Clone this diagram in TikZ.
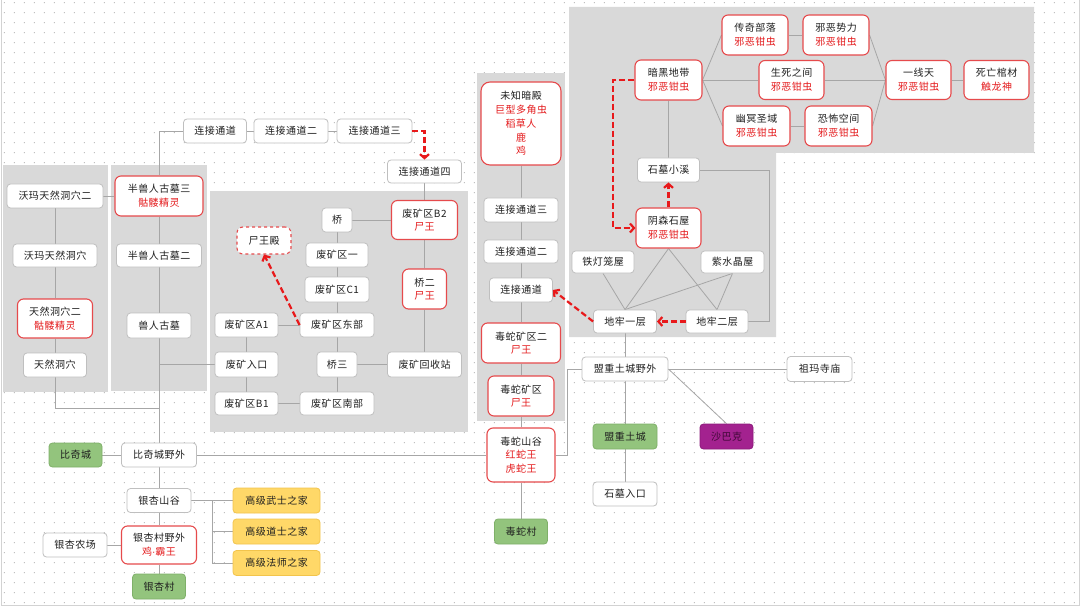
\documentclass[tikz,border=0pt]{standalone}
\usepackage{fontspec}
\setmainfont[LetterSpace=5]{Noto Sans CJK SC}
\newfontfamily\latinf{Liberation Sans}
\usetikzlibrary{arrows.meta,patterns}
\pgfdeclarelayer{bg}
\pgfdeclarelayer{edges}
\pgfsetlayers{bg,edges,main}
\definecolor{txt}{HTML}{1F1F1F}
\definecolor{rt}{HTML}{E41A1C}
\definecolor{rborder}{HTML}{E64A4C}
\definecolor{gborder}{HTML}{BFBFBF}
\definecolor{panel}{HTML}{D9D9D9}
\definecolor{lin}{HTML}{A6A6A6}
\definecolor{gfill}{HTML}{93C47D}
\definecolor{gdraw}{HTML}{7FB069}
\definecolor{ofill}{HTML}{FFD868}
\definecolor{odraw}{HTML}{F2C44C}
\definecolor{pfill}{HTML}{A3228F}
\definecolor{pdraw}{HTML}{8C1A7B}
\definecolor{ptxt}{HTML}{3F0836}
\definecolor{arr}{HTML}{E8191B}
\newcommand\redl[1]{\textcolor{rt}{#1}}
\pgfdeclarepatternformonly{griddots}{\pgfqpoint{0pt}{0pt}}{\pgfqpoint{9.5pt}{9.5pt}}{\pgfqpoint{9.5pt}{9.5pt}}{\pgfpathrectangle{\pgfqpoint{4pt}{4pt}}{\pgfqpoint{1.2pt}{1.2pt}}\pgfusepath{fill}}
\tikzset{
  box/.style={draw=gborder, fill=white, rounded corners=3.5pt, line width=0.8pt,
    text=txt, align=center, inner sep=1pt, font=\fontsize{10}{13.7}\selectfont},
  rbox/.style={box, draw=rborder, line width=1.1pt, rounded corners=6pt},
  gbox/.style={box, fill=gfill, draw=gdraw},
  obox/.style={box, fill=ofill, draw=odraw},
  pbox/.style={box, fill=pfill, draw=pdraw, text=ptxt},
  conn/.style={draw=lin, line width=0.8pt},
  rarrow/.style={draw=arr, line width=2.2pt, dash pattern=on 6pt off 3pt,
    -{Straight Barb[length=4pt,width=9pt]}},
}
\begin{document}
\begin{tikzpicture}[x=1pt,y=-1pt]
\useasboundingbox (0,0) rectangle (1080,607);
\begin{pgfonlayer}{bg}
\fill[white] (0,0) rectangle (1080,607);
\fill[pattern=griddots, pattern color=gray!50] (0,0) rectangle (1080,607);
\draw[gray!35, line width=1pt] (1,0) -- (1,605.5) -- (1079,605.5) -- (1079,0);
\fill[panel] (3,165) rectangle (108,392);
\fill[panel] (111,165) rectangle (207,391);
\fill[panel] (210,191) rectangle (468,432);
\fill[panel] (477,73) rectangle (565,421);
\fill[panel] (569,7) -- (1034,7) -- (1034,153) -- (776,153) -- (776,337) -- (569,337) -- cycle;
\end{pgfonlayer}

% left columns
\node[box, minimum width=96, minimum height=24] (wm2) at (55,196) {沃玛天然洞穴二};
\node[box, minimum width=84, minimum height=23] (wm1) at (55,255.5) {沃玛天然洞穴};
\node[rbox, minimum width=75, minimum height=39] (tr2) at (55,318.5) {天然洞穴二\\\redl{骷髅精灵}};
\node[box, minimum width=63, minimum height=24] (tr1) at (55,365) {天然洞穴};
\node[rbox, minimum width=88, minimum height=40] (bsr3) at (159,196) {半兽人古墓三\\\redl{骷髅精灵}};
\node[box, minimum width=85, minimum height=23] (bsr2) at (159,255.5) {半兽人古墓二};
\node[box, minimum width=64, minimum height=25] (srgm) at (159,325.5) {兽人古墓};
\coordinate (j1) at (159,408);

% top passages
\node[box, minimum width=63, minimum height=24] (lj1) at (215,131) {连接通道};
\node[box, minimum width=74, minimum height=24] (lj2) at (291,131) {连接通道二};
\node[box, minimum width=75, minimum height=24] (lj3) at (374.5,131) {连接通道三};
\node[box, minimum width=74, minimum height=23] (lj4) at (424.5,171.5) {连接通道四};

% mine area
\node[box, minimum width=30, minimum height=24] (qiao) at (337,220) {桥};
\node[rbox, minimum width=66, minimum height=39] (fkB2) at (424.5,220) {废矿区B2\\\redl{尸王}};
\node[rbox, dashed, minimum width=54, minimum height=27] (swd) at (264,240.5) {尸王殿};
\node[box, minimum width=62, minimum height=24] (fk1) at (337,255) {废矿区一};
\node[rbox, minimum width=44, minimum height=40] (q2) at (424.5,289) {桥二\\\redl{尸王}};
\node[box, minimum width=64, minimum height=25] (fkC1) at (337,289.5) {废矿区C1};
\node[box, minimum width=63, minimum height=24] (fkA1) at (246.5,325) {废矿区A1};
\node[box, minimum width=74, minimum height=24] (fkdb) at (337,325) {废矿区东部};
\node[box, minimum width=63, minimum height=25] (fkrk) at (246.5,364.5) {废矿入口};
\node[box, minimum width=40, minimum height=25] (q3) at (337,364.5) {桥三};
\node[box, minimum width=74, minimum height=25] (hsz) at (424.5,364.5) {废矿回收站};
\node[box, minimum width=63, minimum height=23] (fkB1) at (246.5,403.5) {废矿区B1};
\node[box, minimum width=74, minimum height=23] (fknb) at (337,403.5) {废矿区南部};

% bottom left
\node[gbox, minimum width=53, minimum height=24] (bqc) at (75.5,455) {比奇城};
\node[box, minimum width=75, minimum height=24] (bqyw) at (159,455) {比奇城野外};
\node[box, minimum width=64, minimum height=24] (yxsg) at (159,500.5) {银杏山谷};
\node[obox, minimum width=87, minimum height=25] (ws) at (276.5,500.5) {高级武士之家};
\node[obox, minimum width=87, minimum height=25] (ds) at (276.5,531.5) {高级道士之家};
\node[obox, minimum width=87, minimum height=25] (fs) at (276.5,563) {高级法师之家};
\coordinate (br) at (212,500.5);
\node[box, minimum width=64, minimum height=24] (yxnc) at (75,545) {银杏农场};
\node[rbox, minimum width=75, minimum height=38] (yxcyw) at (159,545) {银杏村野外\\\redl{鸡{\latinf ·}霸王}};
\node[gbox, minimum width=53, minimum height=25] (yxc) at (159,586.5) {银杏村};

% middle column
\node[rbox, minimum width=80, minimum height=83, rounded corners=9pt] (wzad) at (521,123.5) {未知暗殿\\\redl{巨型多角虫}\\\redl{稻草人}\\\redl{鹿}\\\redl{鸡}};
\node[box, minimum width=74, minimum height=24] (cl3) at (521,210) {连接通道三};
\node[box, minimum width=74, minimum height=23] (cl2) at (521,251.5) {连接通道二};
\node[box, minimum width=63, minimum height=24] (cl1) at (521,290) {连接通道};
\node[rbox, minimum width=79, minimum height=40] (dsk2) at (521,343) {毒蛇矿区二\\\redl{尸王}};
\node[rbox, minimum width=66, minimum height=40] (dsk1) at (521,396) {毒蛇矿区\\\redl{尸王}};
\node[rbox, minimum width=68, minimum height=54] (dssg) at (521,455) {毒蛇山谷\\\redl{红蛇王}\\\redl{虎蛇王}};
\node[gbox, minimum width=53, minimum height=25] (dsc) at (521,531.5) {毒蛇村};
\coordinate (k1) at (567,455);

% right lower
\node[box, minimum width=86, minimum height=24] (mzyw) at (625,369) {盟重土城野外};
\node[box, minimum width=65, minimum height=25] (zmsm) at (819.5,369) {祖玛寺庙};
\node[gbox, minimum width=64, minimum height=25] (mztc) at (625,436.5) {盟重土城};
\node[pbox, minimum width=53, minimum height=25] (sbk) at (726.5,436.5) {沙巴克};
\node[box, minimum width=64, minimum height=24] (smrk) at (625,494) {石墓入口};

% dungeon
\node[box, minimum width=63, minimum height=23] (dl1) at (625,321.5) {地牢一层};
\node[box, minimum width=62, minimum height=23] (dl2) at (717,321.5) {地牢二层};
\node[box, minimum width=62, minimum height=22] (tdlw) at (603,262) {铁灯笼屋};
\node[box, minimum width=63, minimum height=22] (zsjw) at (732.5,262) {紫水晶屋};
\node[rbox, minimum width=65, minimum height=40] (ysw) at (668.5,228) {阴森石屋\\\redl{邪恶钳虫}};
\node[box, minimum width=62, minimum height=24] (smxx) at (668.5,170) {石墓小溪};
\coordinate (k3) at (769,170);
\coordinate (k2) at (613,80);
\node[rbox, minimum width=67, minimum height=40] (ahdd) at (668.5,80) {暗黑地带\\\redl{邪恶钳虫}};
\node[rbox, minimum width=66, minimum height=40] (cqbl) at (755,35) {传奇部落\\\redl{邪恶钳虫}};
\node[rbox, minimum width=66, minimum height=40] (xesl) at (836,35) {邪恶势力\\\redl{邪恶钳虫}};
\node[rbox, minimum width=65, minimum height=39] (ssjj) at (791.5,80) {生死之间\\\redl{邪恶钳虫}};
\node[rbox, minimum width=65, minimum height=39] (yxt) at (918.5,80) {一线天\\\redl{邪恶钳虫}};
\node[rbox, minimum width=65, minimum height=39] (swgc) at (996.5,80) {死亡棺材\\\redl{触龙神}};
\node[rbox, minimum width=67, minimum height=40] (ymsy) at (756.5,126) {幽冥圣域\\\redl{邪恶钳虫}};
\node[rbox, minimum width=67, minimum height=40] (kbkj) at (838.5,126) {恐怖空间\\\redl{邪恶钳虫}};

\begin{pgfonlayer}{edges}
% left
\draw[conn] (wm2.east) -- (bsr3.west);
\draw[conn] (wm2.south) -- (wm1.north);
\draw[conn] (wm1.south) -- (tr2.north);
\draw[conn] (tr2.south) -- (tr1.north);
\draw[conn] (tr1.south) |- (j1);
\draw[conn] (lj1.west) -| (bsr3.north);
\draw[conn] (bsr3.south) -- (bsr2.north);
\draw[conn] (bsr2.south) -- (srgm.north);
\draw[conn] (srgm.south) -- (bqyw.north);
\draw[conn] (fkrk.west) -- (fkrk.west -| srgm.south);
% top passages
\draw[conn] (lj1.east) -- (lj2.west);
\draw[conn] (lj2.east) -- (lj3.west);
\draw[conn] (lj4.south) -- (fkB2.north);
% mine
\draw[conn] (qiao.east) -- (fkB2.west);
\draw[conn] (qiao.south) -- (fk1.north);
\draw[conn] (fk1.south) -- (fkC1.north);
\draw[conn] (fkC1.south) -- (fkdb.north);
\draw[conn] (fkdb.south) -- (q3.north);
\draw[conn] (q3.south) -- (fknb.north);
\draw[conn] (fkdb.west) -- (fkA1.east);
\draw[conn] (fkA1.south) -- (fkrk.north);
\draw[conn] (fkrk.south) -- (fkB1.north);
\draw[conn] (fkB1.east) -- (fknb.west);
\draw[conn] (q3.east) -- (hsz.west);
\draw[conn] (fkB2.south) -- (q2.north);
\draw[conn] (q2.south) -- (hsz.north);
% bottom left
\draw[conn] (bqc.east) -- (bqyw.west);
\draw[conn] (bqyw.east) -- (dssg.west);
\draw[conn] (bqyw.south) -- (yxsg.north);
\draw[conn] (yxsg.south) -- (yxcyw.north);
\draw[conn] (yxcyw.south) -- (yxc.north);
\draw[conn] (yxnc.east) -- (yxcyw.west);
\draw[conn] (yxsg.east) -- (ws.west);
\draw[conn] (br) |- (ds.west);
\draw[conn] (br) |- (fs.west);
% middle column
\draw[conn] (wzad.south) -- (cl3.north);
\draw[conn] (cl3.south) -- (cl2.north);
\draw[conn] (cl2.south) -- (cl1.north);
\draw[conn] (cl1.south) -- (dsk2.north);
\draw[conn] (dsk2.south) -- (dsk1.north);
\draw[conn] (dsk1.south) -- (dssg.north);
\draw[conn] (dssg.south) -- (dsc.north);
\draw[conn] (dssg.east) -- (k1) |- (mzyw.west);
% right lower
\draw[conn] (mzyw.east) -- (zmsm.west);
\draw[conn] (mzyw.east) -- (sbk.north);
\draw[conn] (mzyw.south) -- (mztc.north);
\draw[conn] (mztc.south) -- (smrk.north);
\draw[conn] (dl1.south) -- (mzyw.north);
% dungeon
\draw[conn] (tdlw.south) -- (dl1.north);
\draw[conn] (ysw.south) -- (dl1.north);
\draw[conn] (zsjw.south) -- (dl1.north);
\draw[conn] (ysw.south) -- (dl2.north);
\draw[conn] (zsjw.south) -- (dl2.north);
\draw[conn] (smxx.east) -- (k3) |- (dl2.east);
\draw[conn] (ahdd.south) -- (smxx.north);
% top right
\draw[conn] (ahdd.east) -- (cqbl.west);
\draw[conn] (ahdd.east) -- (ssjj.west);
\draw[conn] (ahdd.east) -- (ymsy.west);
\draw[conn] (ssjj.east) -- (yxt.west);
\draw[conn] (cqbl.east) -- (xesl.west);
\draw[conn] (ymsy.east) -- (kbkj.west);
\draw[conn] (xesl.east) -- (yxt.west);
\draw[conn] (kbkj.east) -- (yxt.west);
\draw[conn] (yxt.east) -- (swgc.west);
\end{pgfonlayer}

% red dashed arrows
\draw[rarrow] (lj3.east) -| (lj4.north);
\draw[rarrow] (fkdb.west) -- (swd.south);
\draw[rarrow] (dl2.west) -- (dl1.east);
\draw[rarrow] (dl1.west) -- (cl1.east);
\draw[rarrow] (ysw.north) -- (smxx.south);
\draw[rarrow] (ahdd.west) -- (k2) |- (ysw.west);
\end{tikzpicture}
\end{document}
